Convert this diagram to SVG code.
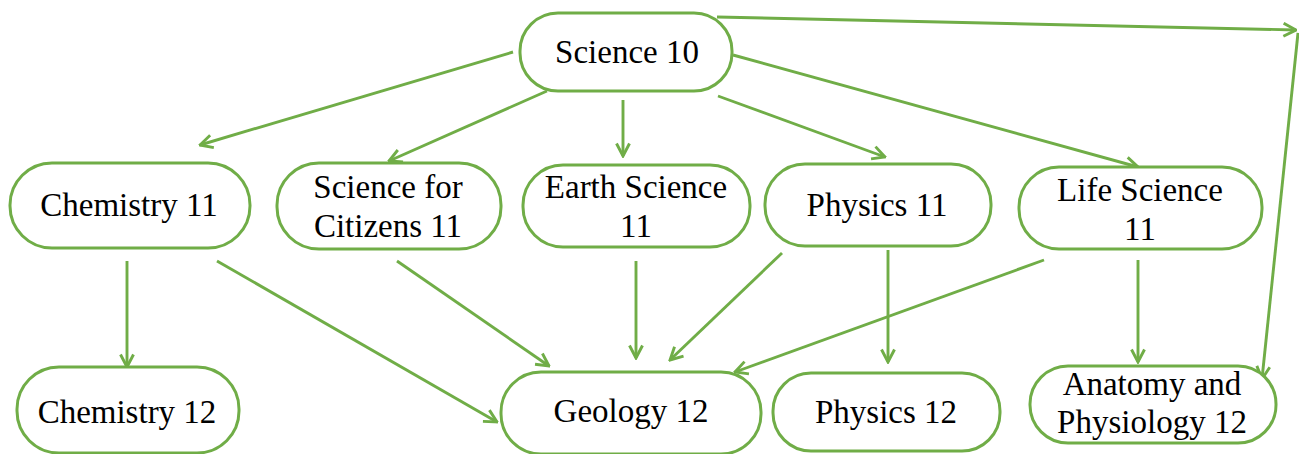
<svg xmlns="http://www.w3.org/2000/svg" width="1299" height="454" viewBox="0 0 1299 454">
<style>
.box{fill:#fff;stroke:#70AD47;stroke-width:3}
.lbl{font-family:'Liberation Serif','DejaVu Serif',serif;font-size:33px;fill:#000;text-anchor:middle}
.edge{fill:none;stroke:#70AD47;stroke-width:2.9;marker-end:url(#arr)}
</style>
<defs>
<marker id="arr" markerUnits="userSpaceOnUse" viewBox="0 0 16 16" refX="14.5" refY="8" markerWidth="16" markerHeight="16" orient="auto">
<path d="M2,1.5 L14.5,8 L2,14.5" fill="none" stroke="#70AD47" stroke-width="2.9"/>
</marker>
</defs>
<rect width="1299" height="454" fill="#fff"/>
<g id="connectors">
<line class="edge" x1="513" y1="52" x2="200" y2="145"/>
<line class="edge" x1="547" y1="91" x2="389" y2="161"/>
<line class="edge" x1="623" y1="100" x2="623" y2="156"/>
<line class="edge" x1="718" y1="96" x2="885" y2="157"/>
<line class="edge" x1="733" y1="55" x2="1138" y2="167"/>
<line class="edge" x1="717" y1="17" x2="1296" y2="30"/>
<line class="edge" x1="1298" y1="33" x2="1262" y2="379"/>
<line class="edge" x1="127" y1="261" x2="127" y2="367"/>
<line class="edge" x1="217" y1="261" x2="497" y2="422"/>
<line class="edge" x1="397" y1="261" x2="549" y2="366"/>
<line class="edge" x1="636" y1="261" x2="636" y2="358"/>
<line class="edge" x1="782" y1="253" x2="670" y2="360"/>
<line class="edge" x1="1044" y1="260" x2="735" y2="372"/>
<line class="edge" x1="888" y1="250" x2="888" y2="362"/>
<line class="edge" x1="1138" y1="260" x2="1138" y2="362"/>
</g>
<g id="science10"><rect class="box" x="520" y="13" width="212" height="78" rx="38"/><text class="lbl" x="627" y="63">Science 10</text></g>
<g id="chemistry11"><rect class="box" x="10" y="163" width="240" height="85" rx="42"/><text class="lbl" x="129" y="216">Chemistry 11</text></g>
<g id="sciencecitizens11"><rect class="box" x="277" y="163" width="224" height="86" rx="42"/><text class="lbl" x="388" y="198">Science for</text><text class="lbl" x="388" y="237">Citizens 11</text></g>
<g id="earthscience11"><rect class="box" x="523" y="165" width="227" height="82" rx="40"/><text class="lbl" x="636" y="198">Earth Science</text><text class="lbl" x="636" y="237">11</text></g>
<g id="physics11"><rect class="box" x="765" y="164" width="226" height="82" rx="40"/><text class="lbl" x="877" y="216">Physics 11</text></g>
<g id="lifescience11"><rect class="box" x="1019" y="167" width="243" height="82" rx="40"/><text class="lbl" x="1140" y="201">Life Science</text><text class="lbl" x="1140" y="240">11</text></g>
<g id="chemistry12"><rect class="box" x="17" y="367" width="222" height="86" rx="42"/><text class="lbl" x="127" y="423">Chemistry 12</text></g>
<g id="geology12"><rect class="box" x="501" y="372" width="260" height="82" rx="40"/><text class="lbl" x="631" y="422">Geology 12</text></g>
<g id="physics12"><rect class="box" x="773" y="373" width="227" height="78" rx="38"/><text class="lbl" x="886" y="423">Physics 12</text></g>
<g id="anatomy12"><rect class="box" x="1030" y="366" width="246" height="77" rx="38"/><text class="lbl" x="1152" y="395">Anatomy and</text><text class="lbl" x="1152" y="433">Physiology 12</text></g>
</svg>
